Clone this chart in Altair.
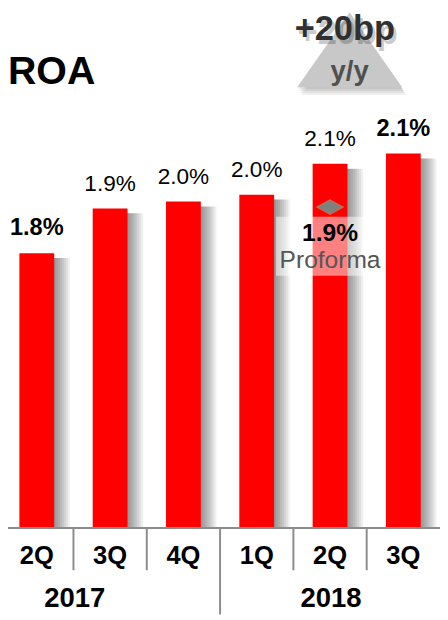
import altair as alt
import pandas as pd

# ---- data ----
periods = ["2Q 2017", "3Q 2017", "4Q 2017", "1Q 2018", "2Q 2018", "3Q 2018"]
quarters = ["2Q", "3Q", "4Q", "1Q", "2Q", "3Q"]
roa = [1.80, 1.93, 1.95, 1.97, 2.06, 2.09]
roa_labels = ["1.8%", "1.9%", "2.0%", "2.0%", "2.1%", "2.1%"]
label_bold = [True, False, False, False, False, True]
axis_base = 1.0
years = ["2017", "2018"]
proforma_period = ["2Q 2018"]
proforma_value = [1.934]
proforma_label = ["1.9%"]
proforma_text = ["Proforma"]
# column separators sit at the left edge of these periods
separators = ["3Q 2017", "4Q 2017", "1Q 2018", "2Q 2018", "3Q 2018"]
year_separator = "1Q 2018"
badge_main = "+20bp"
badge_sub = "y/y"
title_text = "ROA"

FONT = "Liberation Sans"
RED = "#ff0000"
STEP = 448 / 6.0

df = pd.DataFrame({
    "period": periods,
    "quarter": quarters,
    "roa": roa,
    "base": [axis_base] * len(periods),
    "label": roa_labels,
    "bold": label_bold,
})
pf = pd.DataFrame({"period": proforma_period, "value": proforma_value,
                   "label": proforma_label, "text": proforma_text})
sep = pd.DataFrame({"period": separators})

xscale = alt.Scale(domain=periods, range=[-8, 440], paddingInner=0.525, paddingOuter=0.2625)
yscale = alt.Scale(domain=[1.0, 2.5], range=[524, -1])
X = alt.X("period:N", scale=xscale, axis=None)
Y = alt.Y("roa:Q", scale=yscale, axis=None)

base = alt.Chart(df)

# soft shadows to the right of the bars
shadows = [
    base.mark_bar(color="black", opacity=0.06, xOffset=i * 2, yOffset=5).encode(
        x=X, y=Y, y2="base:Q"
    )
    for i in range(1, 9)
]

bars = base.mark_bar(color=RED).encode(x=X, y=Y, y2="base:Q")

lab_bold = base.transform_filter("datum.bold").mark_text(
    font=FONT, fontSize=24, fontWeight="bold", color="black", dy=-25, baseline="middle"
).encode(x=X, y=Y, text="label:N")
lab_norm = base.transform_filter("!datum.bold").mark_text(
    font=FONT, fontSize=23, color="black", dy=-25, baseline="middle"
).encode(x=X, y=Y, text="label:N")

qlab = base.mark_text(
    font=FONT, fontSize=26, fontWeight="bold", color="black", baseline="middle"
).encode(x=X, y=alt.value(553), text="quarter:N")

axis_line = base.mark_rule(color="#8c8c8c", strokeWidth=2).encode(
    y=alt.Y("base:Q", scale=yscale, axis=None), x=alt.value(-8), x2=alt.value(440)
)

short_rules = alt.Chart(sep).transform_filter(f"datum.period != '{year_separator}'").mark_rule(
    color="#8c8c8c", strokeWidth=2, xOffset=-STEP / 2).encode(
    x=X, y=alt.value(524), y2=alt.value(567))
long_rule = alt.Chart(sep).transform_filter(f"datum.period == '{year_separator}'").mark_rule(
    color="#8c8c8c", strokeWidth=2, xOffset=-STEP / 2).encode(
    x=X, y=alt.value(524), y2=alt.value(612))

ydf = pd.DataFrame({"year": years})
y2017 = alt.Chart(ydf).transform_filter(f"datum.year == '{years[0]}'").mark_text(
    font=FONT, fontSize=28, fontWeight="bold", color="black", baseline="middle"
).encode(x=alt.value(68), y=alt.value(596), text="year:N")
y2018 = alt.Chart(ydf).transform_filter(f"datum.year == '{years[1]}'").mark_text(
    font=FONT, fontSize=28, fontWeight="bold", color="black", baseline="middle"
).encode(x=alt.value(329), y=alt.value(596), text="year:N")

# proforma annotation
pbase = alt.Chart(pf)
PY = alt.Y("value:Q", scale=yscale, axis=None)
pbox = pbase.mark_bar(color="white", opacity=0.5, width=110).encode(
    x=X, y=alt.value(207), y2=alt.value(267)
)
pdiamond = pbase.mark_point(
    shape="M-1,0L0,-0.55L1,0L0,0.55Z", size=760, filled=True, color="#808080",
    stroke="#e0703a", strokeWidth=0.8, opacity=1
).encode(x=X, y=PY)
plabel = pbase.mark_text(
    font=FONT, fontSize=25, fontWeight="bold", color="black", dy=27, baseline="middle"
).encode(x=X, y=PY, text="label:N")
ptext = pbase.mark_text(
    font=FONT, fontSize=25, color="#555555", dy=54, baseline="middle"
).encode(x=X, y=PY, text="text:N")

# title
tdf = pd.DataFrame({"t": [title_text]})
title = alt.Chart(tdf).mark_text(
    font=FONT, fontSize=40, fontWeight="bold", color="black", align="left", baseline="alphabetic"
).encode(x=alt.value(0), y=alt.value(72), text="t:N")

# badge
badf = pd.DataFrame({"m": [badge_main], "s": [badge_sub]})
tri_path = "M0,-0.71L1,0.71L-1,0.71Z"
tri_shadow = [
    alt.Chart(badf).mark_point(shape=tri_path, size=11449, filled=True, color="black",
                               opacity=0.06, strokeWidth=0).encode(
        x=alt.value(348 + i), y=alt.value(37 + 2 * i))
    for i in range(1, 5)
]
tri = alt.Chart(badf).mark_point(shape=tri_path, size=11449, filled=True, color="#c8c8c8",
                                 opacity=1, strokeWidth=0).encode(x=alt.value(348), y=alt.value(37))
main_shadow = alt.Chart(badf).mark_text(font=FONT, fontSize=35, fontWeight="bold", color="black",
                                        opacity=0.2, baseline="alphabetic").encode(
    x=alt.value(346), y=alt.value(31), text="m:N")
main_txt = alt.Chart(badf).mark_text(font=FONT, fontSize=35, fontWeight="bold", color="#303030",
                                     baseline="alphabetic").encode(
    x=alt.value(343), y=alt.value(27), text="m:N")
sub_txt = alt.Chart(badf).mark_text(font=FONT, fontSize=28, fontWeight="bold", color="#505050",
                                    baseline="alphabetic").encode(
    x=alt.value(348), y=alt.value(68), text="s:N")

chart = alt.layer(
    *shadows, bars, lab_bold, lab_norm, axis_line, short_rules, long_rule, qlab, y2017, y2018,
    pbox, pdiamond, plabel, ptext, title, *tri_shadow, tri, main_shadow, main_txt, sub_txt
).properties(
    width=440, height=612, padding=0, autosize="none"
).configure_view(stroke=None)

chart.save("out.html", embed_options={"renderer": "svg", "actions": False})
